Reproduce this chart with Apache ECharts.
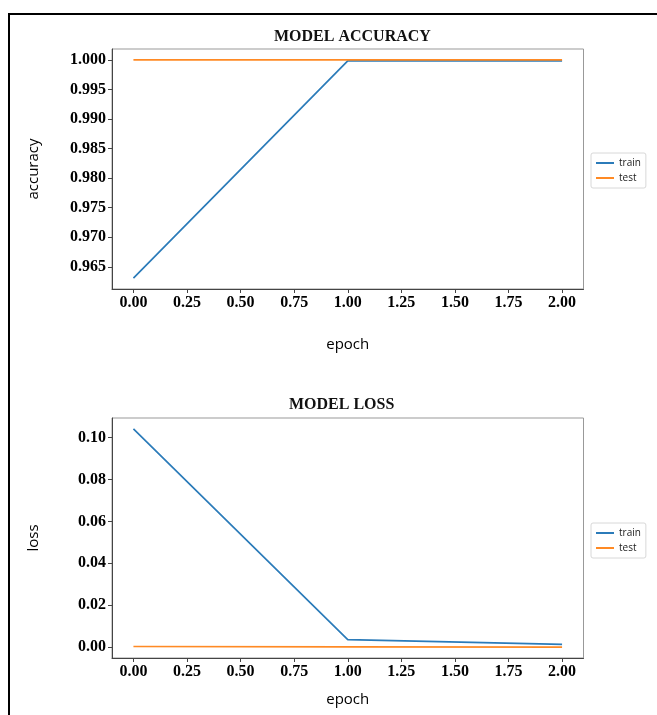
<!DOCTYPE html>
<html>
<head>
<meta charset="utf-8">
<script src="https://cdn.jsdelivr.net/npm/echarts@6/dist/echarts.min.js"></script>
<style>
  html, body { margin: 0; padding: 0; background: #fff; }
  #wrap { position: relative; width: 657px; height: 715px; overflow: hidden; }
  #chart { position: absolute; left: 0; top: 0; width: 657px; height: 715px; }
  #frame { position: absolute; left: 8px; top: 13px; width: 700px; height: 760px;
           border-left: 2px solid #000; border-top: 2px solid #000; pointer-events: none; }
</style>
</head>
<body>
<div id="wrap">
  <div id="chart"></div>
  <div id="frame"></div>
</div>
<script>
// ---- data ----
const epochs = [0, 1, 2];
const accTrain = [0.9631, 0.99985, 0.99985];
const accTest = [1.0, 1.0, 1.0];
const lossTrain = [0.1042, 0.0036, 0.0013];
const lossTest = [0.0003, 0.0001, 0.0000];
const xTicks = [0, 0.25, 0.5, 0.75, 1.0, 1.25, 1.5, 1.75, 2.0];
const accTicks = [0.965, 0.970, 0.975, 0.980, 0.985, 0.990, 0.995, 1.000];
const lossTicks = [0.00, 0.02, 0.04, 0.06, 0.08, 0.10];
const seriesNames = ['train', 'test'];

const BLUE = '#2b7bb9', ORANGE = '#ff8a24';
const serif = '"Liberation Serif", "Times New Roman", serif';
const sans = '"Open Sans", "DejaVu Sans", sans-serif';

function pairs(ys) { return epochs.map((e, i) => [e, ys[i]]); }

function xAxis(gridIndex, nameGap) {
  return {
    type: 'value', gridIndex, min: -0.1, max: 2.1,
    name: 'epoch', nameLocation: 'middle', nameGap,
    nameTextStyle: { fontFamily: sans, fontSize: 15, color: '#000' },
    axisLine: { show: true, onZero: false, lineStyle: { color: '#444', width: 1 } },
    axisTick: { show: true, length: 4, customValues: xTicks, lineStyle: { color: '#444' } },
    axisLabel: { customValues: xTicks, formatter: v => v.toFixed(2), margin: 6,
                 fontFamily: serif, fontWeight: 'bold', fontSize: 16, color: '#000' },
    splitLine: { show: false }
  };
}
function yAxis(gridIndex, name, min, max, ticks, dec) {
  return {
    type: 'value', gridIndex, min, max,
    name, nameLocation: 'middle', nameGap: 71,
    nameTextStyle: { fontFamily: sans, fontSize: 15, color: '#000' },
    axisLine: { show: true, onZero: false, lineStyle: { color: '#444', width: 1 } },
    axisTick: { show: true, length: 4, customValues: ticks, lineStyle: { color: '#444' } },
    axisLabel: { customValues: ticks, formatter: v => v.toFixed(dec), margin: 6,
                 fontFamily: serif, fontWeight: 'bold', fontSize: 16, color: '#000' },
    splitLine: { show: false }
  };
}
function line(name, data, color, xi, yi, z) {
  return { type: 'line', name, data, xAxisIndex: xi, yAxisIndex: yi, z,
           showSymbol: false, symbol: 'none', animation: false,
           lineStyle: { color, width: 1.7 }, itemStyle: { color } };
}
function legend(top) {
  return {
    data: seriesNames, orient: 'vertical', left: 591, top,
    icon: 'rect', itemWidth: 18, itemHeight: 2, itemGap: 5,
    padding: [5, 5, 5, 5], borderColor: '#d8d8d8', borderWidth: 1, borderRadius: 2,
    textStyle: { fontFamily: sans, fontSize: 10, color: '#222' }
  };
}

const chart = echarts.init(document.getElementById('chart'), null, { renderer: 'canvas' });
chart.setOption({
  animation: false,
  backgroundColor: '#fff',
  title: [
    { text: 'MODEL ACCURACY', left: 269, top: 24,
      textStyle: { fontFamily: serif, fontWeight: 'bold', fontSize: 16, color: '#111' } },
    { text: 'MODEL LOSS', left: 284, top: 392,
      textStyle: { fontFamily: serif, fontWeight: 'bold', fontSize: 16, color: '#111' } }
  ],
  legend: [legend(153), legend(523)],
  grid: [
    { left: 112, top: 49, width: 471.5, height: 240, show: true, borderColor: '#999', borderWidth: 1, backgroundColor: 'transparent' },
    { left: 112, top: 418, width: 471.5, height: 240, show: true, borderColor: '#999', borderWidth: 1, backgroundColor: 'transparent' }
  ],
  xAxis: [xAxis(0, 48), xAxis(1, 34)],
  yAxis: [
    yAxis(0, 'accuracy', 0.96125, 1.00185, accTicks, 3),
    yAxis(1, 'loss', -0.0052, 0.1094, lossTicks, 2)
  ],
  series: [
    line('train', pairs(accTrain), BLUE, 0, 0, 2),
    line('test', pairs(accTest), ORANGE, 0, 0, 3),
    line('train', pairs(lossTrain), BLUE, 1, 1, 2),
    line('test', pairs(lossTest), ORANGE, 1, 1, 3)
  ]
});
</script>
</body>
</html>
